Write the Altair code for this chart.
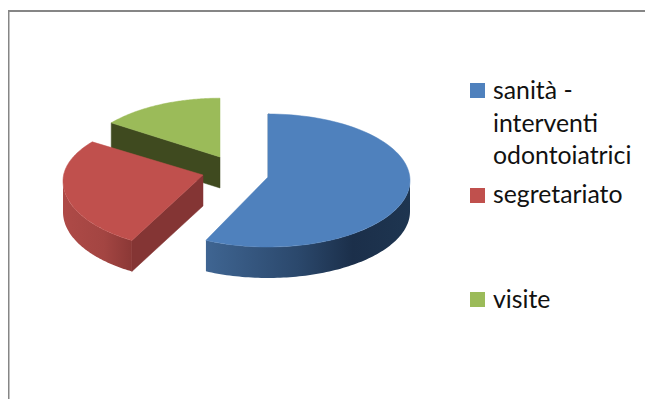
import math
import altair as alt
import pandas as pd

# ---- data ----
labels = ["sanità - interventi odontoiatrici", "segretariato", "visite"]
shares = [57.2, 27.0, 14.2]

legend_lines = ["sanità -", "interventi", "odontoiatrici", "segretariato", "visite"]

# ---- drawing style / geometry ----
W, H = 645, 399      # last page pixel the chart can reach without making the page overflow
M = 8
DEPTH = 31
FACE = ["#4f81bd", "#c0504d", "#9bbb59"]
GAPS = [0, 4.6, 5.9]                # apparent start shift caused by perspective
APEX = [(268, 177), (203, 175), (220, 157)]
CY_OFF = [3.5, 6, 7.7]
RXS = [142, 140, 140]
RY_BACK = [66.5, 64, 66.5]
RY_FRONT = [66.5, 69, 66.5]

xs = alt.Scale(domain=[M, W], nice=False, zero=False)
ys = alt.Scale(domain=[H, M], nice=False, zero=False)
X = lambda f="x": alt.X(f"{f}:Q", scale=xs, axis=None)
Y = lambda f="y": alt.Y(f"{f}:Q", scale=ys, axis=None)


def spans():
    out, c = [], 0.0
    for s, g in zip(shares, GAPS):
        out.append((c + g, c + g + s * 3.6))
        c += s * 3.6
    return out


def pt(i, t):
    ax, ay = APEX[i]
    r = math.radians(t)
    c = math.cos(r)
    ry = RY_BACK[i] if c > 0 else RY_FRONT[i]
    return ax + RXS[i] * math.sin(r), ay + CY_OFF[i] - ry * c


def arc(i, a, b, n=90):
    return [pt(i, a + (b - a) * k / n) for k in range(n + 1)]


def poly(points, fill):
    df = pd.DataFrame(
        [{"x": x, "y": y, "o": k} for k, (x, y) in enumerate(points + points[:1])]
    )
    return (
        alt.Chart(df)
        .mark_line(fill=fill, filled=True, stroke=fill, strokeWidth=0.5, interpolate="linear")
        .encode(x=X(), y=Y(), order="o:Q")
    )


def wall(i, a, b, stops):
    df = pd.DataFrame(
        [{"x": x, "y": y, "y2": y + DEPTH} for x, y in arc(i, a, b)]
    )
    grad = alt.Gradient(
        gradient="linear",
        x1=0, x2=1, y1=0, y2=0,
        stops=[alt.GradientStop(offset=o, color=c) for o, c in stops],
    )
    return alt.Chart(df).mark_area(fill=grad, color=grad).encode(
        x=X(), y=Y(), y2="y2:Q"
    )


def cut(i, t, color):
    ax, ay = APEX[i]
    ex, ey = pt(i, t)
    return poly([(ex, ey), (ax, ay), (ax, ay + DEPTH), (ex, ey + DEPTH)], color)


def face(i, a, b):
    return poly([APEX[i]] + arc(i, a, b), FACE[i])


(b0, b1), (r0, r1), (g0, g1) = spans()

layers = [
    # frame
    alt.Chart(pd.DataFrame({"x": [8.5], "y": [11.0], "y2": [H]}))
    .mark_rule(color="#868686", strokeWidth=2)
    .encode(x=X(), y=Y(), y2="y2:Q"),
    alt.Chart(pd.DataFrame({"x": [8.0], "x2": [W], "y": [11.0]}))
    .mark_rule(color="#868686", strokeWidth=2)
    .encode(x=X(), x2="x2:Q", y=Y()),
    # green
    cut(2, g0, "#3f4a1f"),
    face(2, g0, 360),
    # red
    wall(1, r0, 270, [(0, "#ae4a47"), (0.6, "#a34542"), (1, "#8b3836")]),
    cut(1, r0, "#843534"),
    face(1, r0, r1),
    # blue
    wall(0, 90, b1, [(0, "#3f6592"), (0.45, "#2b486c"), (0.72, "#1b2f4a"), (1, "#1e3550")]),
    poly([(268, 114), (268, 177), (269.5, 177), (269.5, 114)], "#234263"),
    face(0, b0, b1),
]

# legend
leg_y = [83, 188, 292]
leg = pd.DataFrame(
    {
        "x": [470.0] * 3,
        "x2": [485.0] * 3,
        "y": leg_y,
        "y2": [v + 15 for v in leg_y],
        "label": labels,
        "c": FACE,
    }
)
layers.append(
    alt.Chart(leg)
    .mark_rect()
    .encode(x=X(), x2="x2:Q", y=Y(), y2="y2:Q", color=alt.Color("c:N", scale=None))
)
txt = pd.DataFrame(
    {"label": legend_lines, "x": [493.0] * 5, "y": [99, 132, 164, 203, 308]}
)
layers.append(
    alt.Chart(txt)
    .mark_text(align="left", baseline="alphabetic", font="Lato", fontSize=24.8, color="#111111")
    .encode(x=X(), y=Y(), text="label:N")
)

chart = (
    alt.layer(*layers)
    .properties(width=W - M, height=H - M, padding=0, background="white",
                autosize=alt.AutoSizeParams(type="none"))
    .configure_view(stroke=None)
)

chart.save("out.html", embed_options={"renderer": "svg", "actions": False})
